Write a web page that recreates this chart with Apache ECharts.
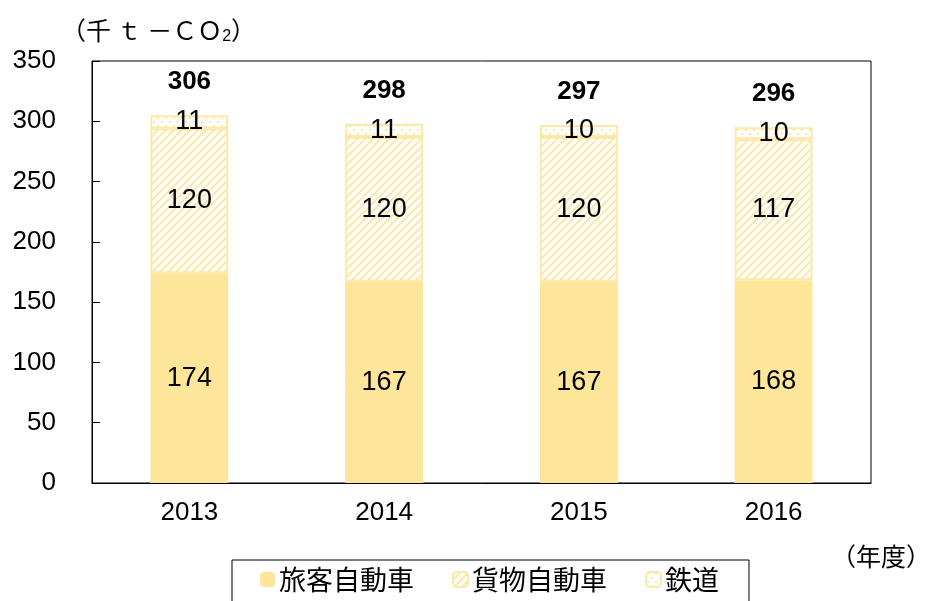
<!DOCTYPE html>
<html>
<head>
<meta charset="utf-8">
<script src="https://cdn.jsdelivr.net/npm/echarts@6/dist/echarts.min.js"></script>
<style>
  html, body { margin: 0; padding: 0; background: #fff; }
  #chart { width: 928px; height: 601px; }
</style>
</head>
<body>
<div id="chart"></div>
<script>
// データ
const years = ['2013', '2014', '2015', '2016'];
const passenger = [174, 167, 167, 168];   // 旅客自動車
const freight = [120, 120, 120, 117];     // 貨物自動車
const rail = [11, 11, 10, 10];            // 鉄道
const totals = [306, 298, 297, 296];
const yTicks = [0, 50, 100, 150, 200, 250, 300, 350];

const FONT = "'Liberation Sans', 'Noto Sans CJK JP', sans-serif";
const JP = "'Noto Sans CJK JP', sans-serif";
const YELLOW = '#fde599';
const LINE = '#fde8a8';

// 斜線パターン
function stripePattern() {
  const c = document.createElement('canvas');
  c.width = 8; c.height = 8;
  const g = c.getContext('2d');
  g.fillStyle = '#fff';
  g.fillRect(0, 0, 8, 8);
  g.strokeStyle = LINE;
  g.lineWidth = 2;
  g.beginPath();
  g.moveTo(-2, 10); g.lineTo(10, -2);
  g.moveTo(-2, 2); g.lineTo(2, -2);
  g.moveTo(6, 10); g.lineTo(10, 6);
  g.stroke();
  return { image: c, repeat: 'repeat' };
}
// ドットパターン
function dotPattern() {
  const c = document.createElement('canvas');
  c.width = 8; c.height = 8;
  const g = c.getContext('2d');
  g.fillStyle = '#fff';
  g.fillRect(0, 0, 8, 8);
  g.fillStyle = LINE;
  g.fillRect(1, 1, 2, 2);
  g.fillRect(5, 5, 2, 2);
  return { image: c, repeat: 'repeat' };
}

const chart = echarts.init(document.getElementById('chart'));
chart.setOption({
  animation: false,
  textStyle: { fontFamily: FONT },
  title: [{
    text: '（千 ｔ －ＣＯ{s|2}）',
    left: 56, top: 10,
    textStyle: {
      fontSize: 25, fontWeight: 'normal', color: '#000', fontFamily: JP,
      rich: { s: { fontSize: 16, padding: [14, 0, 0, 0], fontFamily: FONT } }
    }
  }, {
    text: '（年度）',
    right: -8, top: 539,
    textStyle: { fontSize: 25, fontWeight: 'normal', color: '#000', fontFamily: JP }
  }],
  legend: {
    left: 232, top: 560,
    itemWidth: 15, itemHeight: 15,
    itemGap: 38,
    padding: [6, 30, 20, 28],
    borderColor: '#000', borderWidth: 1,
    textStyle: { fontSize: 27, color: '#000', fontFamily: JP, padding: [0, 0, 0, -1] },
    data: ['旅客自動車', '貨物自動車', '鉄道']
  },
  grid: {
    left: 92, right: 57, top: 61, bottom: 118,
    show: true, borderColor: '#000', borderWidth: 1
  },
  xAxis: {
    type: 'category',
    data: years,
    axisLine: { lineStyle: { color: '#000' } },
    axisTick: { length: 7, lineStyle: { color: '#000' } },
    axisLabel: { fontSize: 26, color: '#000', margin: 17 }
  },
  yAxis: {
    type: 'value',
    min: 0, max: 350, interval: 50,
    axisLine: { show: true, lineStyle: { color: '#000' } },
    axisTick: { show: true, inside: true, length: 8, lineStyle: { color: '#000' } },
    splitLine: { show: false },
    axisLabel: {
      fontSize: 26, color: '#000', margin: 36,
      formatter: v => yTicks.includes(v) ? String(v) : ''
    }
  },
  series: [{
    name: '旅客自動車',
    type: 'bar', stack: 'total', barWidth: '40%',
    itemStyle: { color: YELLOW },
    label: { show: true, position: 'inside', fontSize: 27, color: '#000' },
    data: passenger
  }, {
    name: '貨物自動車',
    type: 'bar', stack: 'total',
    itemStyle: { color: stripePattern(), borderColor: LINE, borderWidth: 2 },
    label: { show: true, position: 'inside', fontSize: 27, color: '#000' },
    data: freight
  }, {
    name: '鉄道',
    type: 'bar', stack: 'total',
    itemStyle: { color: dotPattern(), borderColor: LINE, borderWidth: 2 },
    label: { show: true, position: 'inside', fontSize: 27, color: '#000' },
    data: rail
  }, {
    // 合計ラベル
    name: '合計',
    type: 'bar', stack: 'total',
    itemStyle: { color: 'transparent' },
    label: {
      show: true, position: 'top', distance: 20,
      fontSize: 26, fontWeight: 'bold', color: '#000',
      formatter: p => totals[p.dataIndex]
    },
    data: years.map(() => 0)
  }]
});
</script>
</body>
</html>
